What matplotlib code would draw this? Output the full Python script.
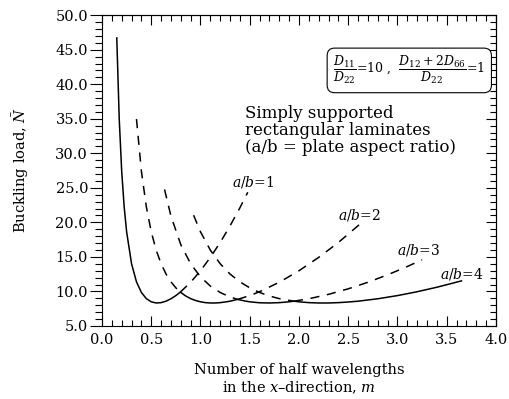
import numpy as np
import matplotlib
matplotlib.use("Agg")
import matplotlib.pyplot as plt

plt.rcParams['font.family'] = 'DejaVu Serif'
plt.rcParams['mathtext.fontset'] = 'dejavuserif'

# lower envelope (solid line)
m_env = [0.15, 0.175, 0.2, 0.225, 0.25, 0.3, 0.35, 0.4, 0.45, 0.5, 0.55, 0.6, 0.65, 0.7, 0.75, 0.795,
         0.85, 0.9, 0.95, 1.0, 1.05, 1.1, 1.15, 1.2, 1.25, 1.3, 1.377,
         1.45, 1.5, 1.6, 1.7, 1.8, 1.9, 1.948,
         2.0, 2.1, 2.2, 2.3, 2.4, 2.5, 2.6, 2.8, 3.0, 3.2, 3.4, 3.65]
n_env = [46.7, 34.96, 27.4, 22.26, 18.63, 14.01, 11.39, 9.85, 8.96, 8.5, 8.33, 8.38, 8.59, 8.94, 9.40, 9.90,
         9.34, 8.96, 8.69, 8.5, 8.38, 8.33, 8.33, 8.38, 8.47, 8.59, 8.85,
         8.62, 8.5, 8.36, 8.33, 8.38, 8.50, 8.59,
         8.5, 8.38, 8.33, 8.33, 8.38, 8.47, 8.59, 8.94, 9.40, 9.96, 10.61, 11.53]

# dashed branches
m_r1 = [0.795, 0.9, 1.0, 1.1, 1.2, 1.3, 1.4, 1.48]
n_r1 = [9.90, 11.33, 13.0, 14.93, 17.09, 19.49, 22.11, 24.36]

m_r2a = [0.35, 0.4, 0.45, 0.5, 0.55, 0.6, 0.65, 0.7, 0.75, 0.795]
n_r2a = [34.96, 27.4, 22.26, 18.63, 15.98, 14.01, 12.52, 11.39, 10.52, 9.90]
m_r2b = [1.377, 1.5, 1.6, 1.8, 2.0, 2.2, 2.4, 2.65]
n_r2b = [8.85, 9.40, 9.96, 11.33, 13.0, 14.93, 17.09, 20.13]

m_r3a = [0.635, 0.7, 0.8, 0.9, 1.0, 1.1, 1.2, 1.3, 1.377]
n_r3a = [24.77, 20.91, 16.77, 14.01, 12.11, 10.78, 9.85, 9.20, 8.85]
m_r3b = [1.948, 2.1, 2.3, 2.5, 2.7, 2.9, 3.1, 3.25]
n_r3b = [8.59, 8.94, 9.58, 10.38, 11.33, 12.41, 13.61, 14.59]

m_r4 = [0.93, 1.0, 1.1, 1.2, 1.3, 1.4, 1.5, 1.6, 1.7, 1.8, 1.948]
n_r4 = [21.04, 18.63, 15.98, 14.01, 12.52, 11.39, 10.52, 9.85, 9.34, 8.96, 8.59]

curve_labels = ['$a/b$=1', '$a/b$=2', '$a/b$=3', '$a/b$=4']
label_x = [1.32, 2.40, 3.00, 3.43]
label_y = [25.8, 21.1, 16.0, 12.5]

fig = plt.figure(figsize=(5.1, 3.99), dpi=100)
ax = fig.add_axes([0.2, 0.183, 0.7725, 0.779])

ax.plot(m_env, n_env, color='black', lw=1.1)
dash = dict(color='black', lw=1.1, linestyle=(0, (6, 5)))
for mm, nn in [(m_r1, n_r1), (m_r2a, n_r2a), (m_r2b, n_r2b),
               (m_r3a, n_r3a), (m_r3b, n_r3b), (m_r4, n_r4)]:
    ax.plot(mm, nn, **dash)

for lab, lx, ly in zip(curve_labels, label_x, label_y):
    ax.text(lx, ly, lab, fontsize=10, va='center', ha='left')

ax.text(3.12, 42.0, r'$\dfrac{D_{11}}{D_{22}}$=10 ,  $\dfrac{D_{12}+2D_{66}}{D_{22}}$=1',
        fontsize=9, ha='center', va='center',
        bbox=dict(boxstyle='round,pad=0.5,rounding_size=0.6', fc='white', ec='black', lw=0.8))
ax.text(1.45, 37.0, 'Simply supported\nrectangular laminates\n(a/b = plate aspect ratio)',
        fontsize=12, ha='left', va='top', linespacing=1.0)

ax.set_xlim(0, 4)
ax.set_ylim(5, 50)
ax.set_xticks(np.arange(0, 4.01, 0.5))
ax.set_xticks(np.arange(0, 4.01, 0.1), minor=True)
ax.set_yticks(np.arange(5, 50.01, 5))
ax.set_yticks(np.arange(5, 50.01, 1), minor=True)
ax.set_xticklabels(['%.1f' % v for v in np.arange(0, 4.01, 0.5)])
ax.set_yticklabels(['%.1f' % v for v in np.arange(5, 50.01, 5)])
ax.tick_params(axis='x', which='major', direction='in', length=7, width=0.8, labelsize=10.5, pad=5)
ax.tick_params(axis='x', which='minor', direction='in', length=4, width=0.8)
ax.tick_params(axis='y', which='major', direction='out', length=9, width=0.8, labelsize=10.5, pad=1)
ax.tick_params(axis='y', which='minor', direction='out', length=5, width=0.8)

top = ax.secondary_xaxis('top')
top.set_xticks(np.arange(0, 4.01, 0.5))
top.set_xticks(np.arange(0, 4.01, 0.1), minor=True)
top.tick_params(which='major', direction='in', length=7, width=0.8, labeltop=False)
top.tick_params(which='minor', direction='in', length=4, width=0.8)
right = ax.secondary_yaxis('right')
right.set_yticks(np.arange(5, 50.01, 5))
right.set_yticks(np.arange(5, 50.01, 1), minor=True)
right.tick_params(which='major', direction='in', length=7, width=0.8, labelright=False)
right.tick_params(which='minor', direction='in', length=4, width=0.8)

fig.text(0.586, 0.073, 'Number of half wavelengths', fontsize=10.5, ha='center', va='center')
fig.text(0.586, 0.028, 'in the $x$–direction, $m$', fontsize=10.5, ha='center', va='center')
fig.text(0.04, 0.575, r'Buckling load, $\bar{N}$', fontsize=10.5, rotation=90, ha='center', va='center')

fig.savefig('out.png', dpi=100)
